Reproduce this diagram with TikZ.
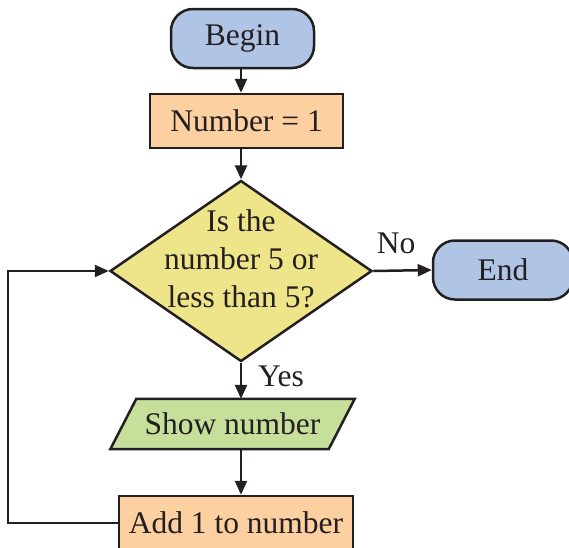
\documentclass[tikz,border=0pt]{standalone}
\usepackage{fontspec}
\setmainfont{Liberation Serif}
\usetikzlibrary{shapes.geometric,arrows.meta,calc,backgrounds}

\definecolor{ink}{HTML}{231F20}
\definecolor{termfill}{HTML}{B0C4E6}
\definecolor{procfill}{HTML}{FCD0A0}
\definecolor{decfill}{HTML}{EEE48A}
\definecolor{iofill}{HTML}{C6DF9A}

\tikzset{
  base/.style={font=\fontsize{31.5}{38}\selectfont, text=ink, inner sep=0pt},
  terminal/.style={base, draw=ink, line width=2.5pt, fill=termfill, rounded corners=22pt},
  process/.style={base, draw=ink, line width=2.5pt, fill=procfill},
  decision/.style={diamond, draw=ink, line width=2.5pt, fill=decfill, inner sep=0pt,
                   minimum width=262pt, minimum height=181pt},
  flow/.style={draw=ink, line width=2.5pt, -{Triangle[length=14pt,width=12pt]}},
  lbl/.style={base}
}

\begin{document}
\begin{tikzpicture}[x=1pt,y=-1pt]
\useasboundingbox (0,0) rectangle (569,547);

% start / end terminals
\node[terminal, minimum width=143pt, minimum height=59pt] (begin) at (242.5,38.5) {Begin};
\node[terminal, minimum width=140pt, minimum height=59pt] (end) at (503,270) {End};

% initialisation
\node[process, minimum width=193pt, minimum height=54pt] (init) at (246.5,121) {Number = 1};

% decision
\node[decision] (q) at (241,271) {};
\node[base, align=center] (qtext) at (241,259) {Is the\\number 5 or\\less than 5?};

% output (parallelogram)
\node[base, minimum width=218pt, minimum height=50pt] (show) at (232.5,424) {Show number};
\begin{scope}[on background layer]
  \draw[ink, line width=2.5pt, fill=iofill, line join=miter]
    ($(show.north west)+(13,0)$) -- ($(show.north east)+(13,0)$) --
    ($(show.south east)+(-13,0)$) -- ($(show.south west)+(-13,0)$) -- cycle;
\end{scope}

% increment
\node[process, minimum width=234pt, minimum height=54pt] (add) at (236,523) {Add 1 to number};

% connectors
\draw[flow] (begin.south -| q.north) -- (q.north |- init.north);
\draw[flow] (q.north |- init.south) -- (q.north);
\draw[flow] (q.south) -- (q.south |- show.north);
\draw[flow] (q.south |- show.south) -- (q.south |- add.north);
\draw[flow] (q.east) -- (end.west);
\coordinate (loopc) at (8,523);
\draw[flow] (add.west) -- (loopc) |- (q.west);

% branch labels
\node[lbl] (yes) at (281,376) {Yes};
\node[lbl] (no) at (396,243) {No};
\end{tikzpicture}
\end{document}
